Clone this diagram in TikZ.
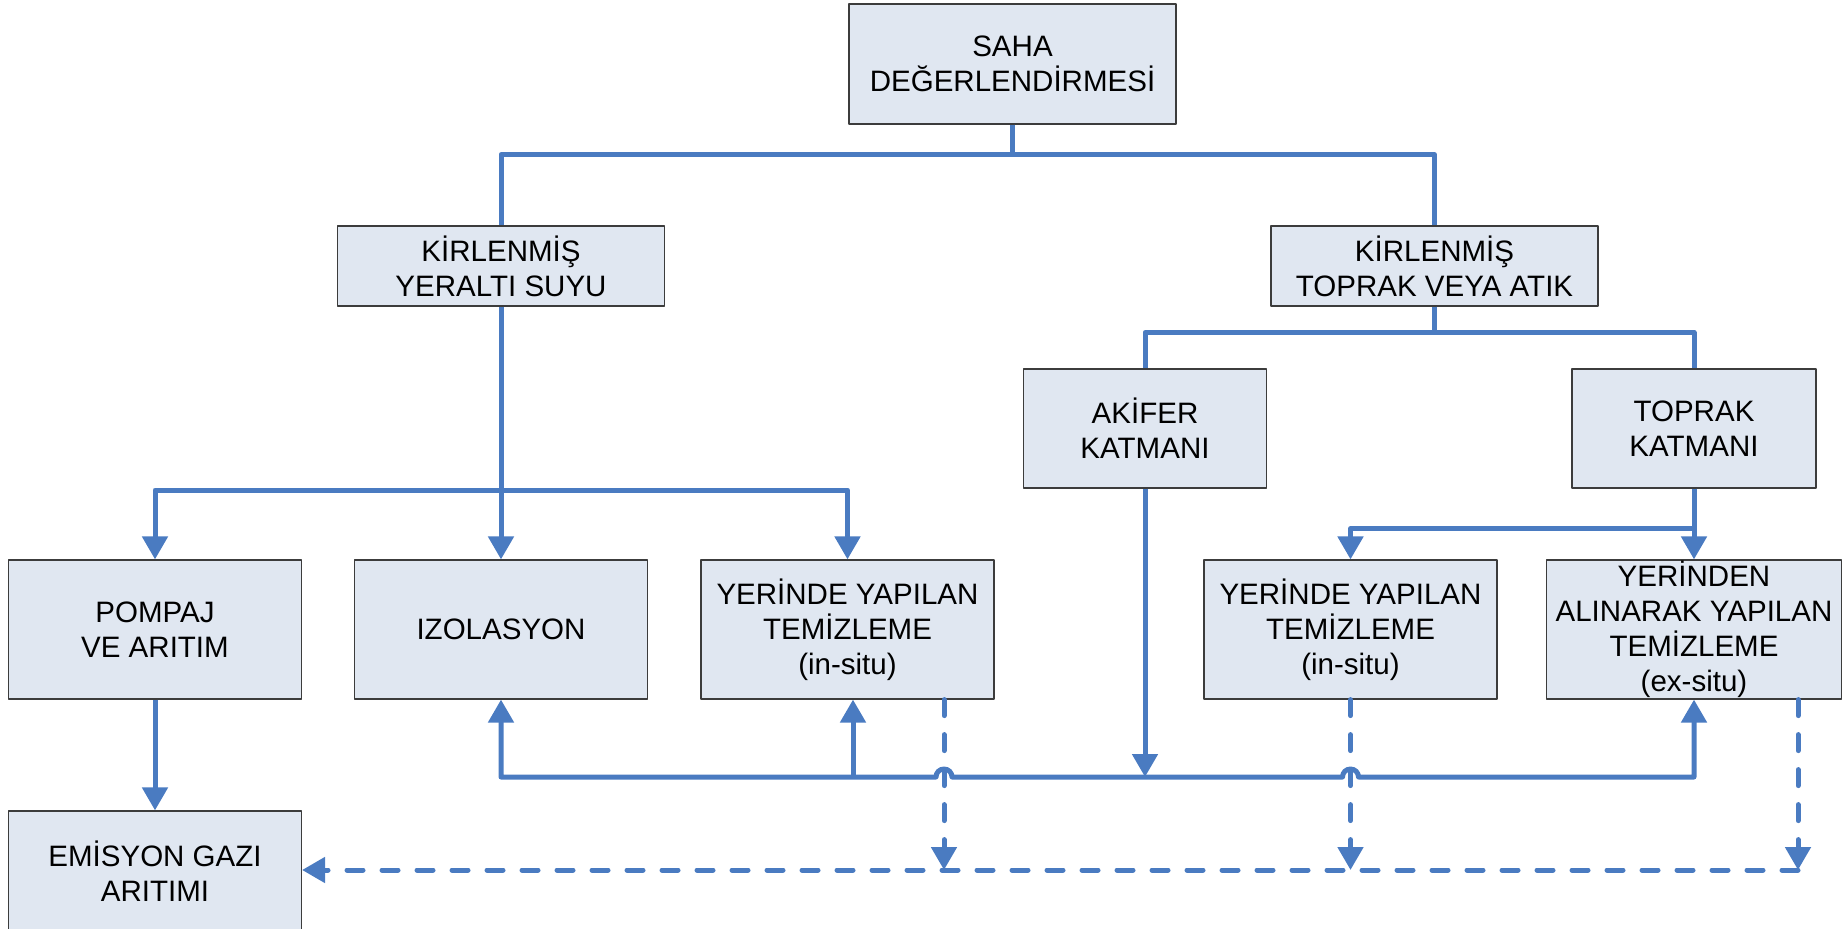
\documentclass[tikz,border=0pt]{standalone}
\usepackage{fontspec}
\setmainfont{Liberation Sans}
\usetikzlibrary{arrows.meta,calc}
\definecolor{siteLine}{HTML}{4A7BC1}
\definecolor{siteFill}{HTML}{E0E7F1}
\definecolor{siteEdge}{HTML}{3C3C3C}

\begin{document}
\begin{tikzpicture}[x=0.1mm,y=-0.1mm,line join=round,
  box/.style={draw=siteEdge,line width=0.12mm,fill=siteFill,inner sep=0pt,align=center,
    font=\fontsize{8.4}{10}\selectfont,minimum width=29.3mm,minimum height=13.9mm},
  flow/.style={draw=siteLine,line width=0.5mm},
  dashflow/.style={flow,line cap=round,dash pattern=on 1.6mm off 1.9mm},
  >={Triangle[width=2.5mm,length=2.3mm]}]
\path[use as bounding box,clip] (0,0) rectangle (1845,929);

% upper levels
\node[box,minimum width=32.7mm,minimum height=12mm] (saha) at (1012.5,64) {SAHA\\DEĞERLENDİRMESİ};
\node[box,minimum width=32.7mm,minimum height=8mm] (gw) at (501,266) {KİRLENMİŞ\\YERALTI SUYU};
\node[box,minimum width=32.7mm,minimum height=8mm] (soil) at (1434.5,266) {KİRLENMİŞ\\TOPRAK VEYA ATIK};
\node[box,minimum width=24.3mm,minimum height=11.9mm] (aquifer) at (1145,428.5) {AKİFER\\KATMANI};
\node[box,minimum width=24.4mm,minimum height=11.9mm] (topsoil) at (1694,428.5) {TOPRAK\\KATMANI};

% methods
\node[box] (pump) at (155,629.5) {POMPAJ\\VE ARITIM};
\node[box] (izol) at (501,629.5) {IZOLASYON};
\node[box] (insitu1) at (847.5,629.5) {YERİNDE YAPILAN\\TEMİZLEME\\(in-situ)};
\node[box] (insitu2) at (1350.5,629.5) {YERİNDE YAPILAN\\TEMİZLEME\\(in-situ)};
\node[box,minimum width=29.5mm] (exsitu) at (1694,629.5) {YERİNDEN\\ALINARAK YAPILAN\\TEMİZLEME\\(ex-situ)};
\node[box,minimum height=12mm] (emis) at (155,871) {EMİSYON GAZI\\ARITIMI};

\coordinate (splitG) at (501,490);
\coordinate (upA) at (853,777);
\coordinate (hopA) at (944,777);
\coordinate (hopB) at (1350.5,777);
\coordinate (gasA) at (944,870);
\coordinate (gasC) at (1798,870);

% tree
\draw[flow] (saha.south) -- ++(0,30) -| (gw.north);
\draw[flow] (saha.south) -- ++(0,30) -| (soil.north);
\draw[flow,->] (gw.south) -- (izol.north);
\draw[flow,->] (splitG) -| (pump.north);
\draw[flow,->] (splitG) -| (insitu1.north);
\draw[flow] (soil.south) -- ++(0,26) -| (aquifer.north);
\draw[flow] (soil.south) -- ++(0,26) -| (topsoil.north);
\draw[flow,->] (topsoil.south) -- (exsitu.north);
\draw[flow,->] (topsoil.south) -- ++(0,40) -| (insitu2.north);
\draw[flow,->] (pump.south) -- (emis.north);

% aquifer line
\draw[flow,<->] (izol.south) |- ($(hopA)+(-8,0)$) arc[start angle=180,end angle=0,radius=0.8mm]
  -- ($(hopB)+(-8,0)$) arc[start angle=180,end angle=0,radius=0.8mm] -| (exsitu.south);
\draw[flow,->] (upA) -- (upA |- insitu1.south);
\draw[flow,->] (aquifer.south) -- (aquifer.south |- upA);

% gas
\draw[dashflow,->] (insitu1.south -| gasA) -- (gasA);
\draw[dashflow,->] (insitu2.south) -- (insitu2.south |- gasA);
\draw[dashflow,->] (exsitu.south -| gasC) -- (gasC);
\draw[dashflow,->] (gasC) -- (emis.east |- gasA);
\end{tikzpicture}
\end{document}
